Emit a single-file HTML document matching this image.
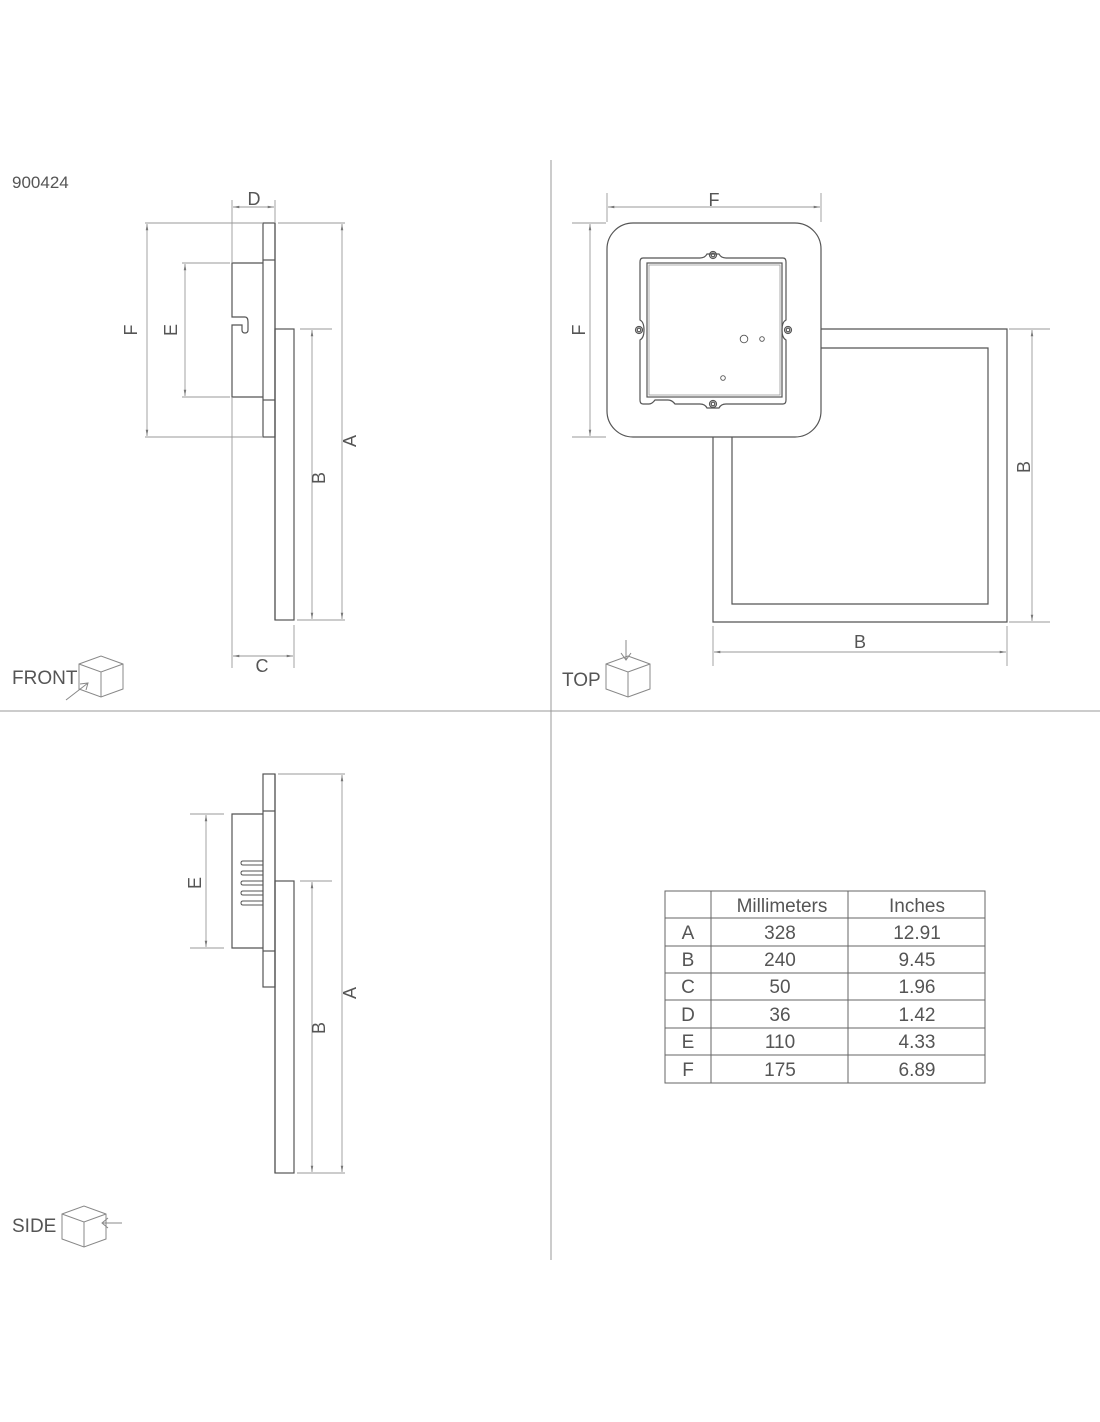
<!DOCTYPE html>
<html><head><meta charset="utf-8"><style>
html,body{margin:0;padding:0;background:#fff}
svg{display:block}
text{font-family:"Liberation Sans",sans-serif;fill:#555}
</style></head><body>
<svg width="1100" height="1422" viewBox="0 0 1100 1422" xmlns="http://www.w3.org/2000/svg">
<defs>
<marker id="ar" viewBox="0 0 10 10" refX="10" refY="5" markerWidth="7" markerHeight="7" orient="auto-start-reverse"><path d="M0,3 L10,5 L0,7 z" fill="#777"/></marker>
</defs>
<!-- dividers -->
<g stroke="#999" stroke-width="1">
<line x1="0" y1="711" x2="1100" y2="711"/>
<line x1="551" y1="160" x2="551" y2="1260"/>
</g>
<text x="12" y="188" font-size="17" fill="#666">900424</text>

<!-- FRONT VIEW -->
<g fill="none" stroke="#555" stroke-width="1.2">
<rect x="263" y="223" width="12" height="214"/>
<line x1="263" y1="260" x2="275" y2="260"/>
<line x1="263" y1="400" x2="275" y2="400"/>
<path d="M263,263 H232 V317 H245 Q248,317 248,322 V330 Q248,333 245,333 Q242,333 242,330 V325 H232 V397 H263"/>
<rect x="275" y="329" width="19" height="291"/>
<line x1="275" y1="223" x2="275" y2="620"/>
</g>
<g stroke="#999" stroke-width="0.9" fill="none">
<line x1="232" y1="200" x2="232" y2="262"/><line x1="232" y1="398" x2="232" y2="668"/>
<line x1="275" y1="200" x2="275" y2="222"/>
<line x1="233" y1="207" x2="274" y2="207" marker-start="url(#ar)" marker-end="url(#ar)"/>
<line x1="145" y1="223" x2="262" y2="223"/><line x1="145" y1="437" x2="262" y2="437"/>
<line x1="147" y1="224" x2="147" y2="436" marker-start="url(#ar)" marker-end="url(#ar)"/>
<line x1="182" y1="263" x2="230" y2="263"/><line x1="182" y1="397" x2="230" y2="397"/>
<line x1="185" y1="264" x2="185" y2="396" marker-start="url(#ar)" marker-end="url(#ar)"/>
<line x1="278" y1="223" x2="345" y2="223"/><line x1="297" y1="620" x2="345" y2="620"/>
<line x1="342" y1="224" x2="342" y2="619" marker-start="url(#ar)" marker-end="url(#ar)"/>
<line x1="300" y1="329" x2="332" y2="329"/>
<line x1="312" y1="330" x2="312" y2="619" marker-start="url(#ar)" marker-end="url(#ar)"/>
<line x1="294" y1="625" x2="294" y2="668"/>
<line x1="233" y1="656" x2="293" y2="656" marker-start="url(#ar)" marker-end="url(#ar)"/>
</g>
<g font-size="18">
<text x="254" y="205" text-anchor="middle">D</text>
<text x="262" y="672" text-anchor="middle">C</text>
<text transform="translate(137,330) rotate(-90)" text-anchor="middle">F</text>
<text transform="translate(177,330) rotate(-90)" text-anchor="middle">E</text>
<text transform="translate(356,441) rotate(-90)" text-anchor="middle">A</text>
<text transform="translate(325,478) rotate(-90)" text-anchor="middle">B</text>
</g>
<text x="12" y="684" font-size="19">FRONT</text>
<g fill="none" stroke="#888" stroke-width="1">
<path d="M79,664 L101,656 L123,664 L123,689 L101,697 L79,689 Z M79,664 L101,672 L123,664 M101,672 L101,697"/>
<path d="M66,700 L88,683 M80,684 L88,683 L86,690"/>
</g>

<!-- TOP VIEW -->
<g fill="none" stroke="#555" stroke-width="1.2">
<path d="M821,329 H1007 V622 H713 V437"/>
<path d="M821,348 H988 V604 H732 V437"/>
<rect x="607" y="223" width="214" height="214" rx="26" fill="#fff"/>
<path d="M643,258 H700 Q705,258 707,254 H719 Q721,258 726,258 H783 Q786,258 786,262 V320 Q782,322 782,330 Q782,338 786,340 V400 Q786,404 783,404 H726 Q721,404 719,408 H707 Q705,404 700,404 H675 Q672,400 668,400 H655 Q652,404 649,404 H643 Q640,404 640,400 V340 Q644,338 644,330 Q644,322 640,320 V262 Q640,258 643,258 Z"/>
<rect x="647" y="263" width="135" height="134"/>
<rect x="649" y="265" width="131" height="130" stroke="#999" stroke-width="0.8"/>
<circle cx="713" cy="255" r="3.5"/><circle cx="713" cy="255" r="1.8"/>
<circle cx="713" cy="404" r="3.5"/><circle cx="713" cy="404" r="1.8"/>
<circle cx="639" cy="330" r="3.5"/><circle cx="639" cy="330" r="1.8"/>
<circle cx="788" cy="330" r="3.5"/><circle cx="788" cy="330" r="1.8"/>
<circle cx="744" cy="339" r="3.8" stroke-width="0.9"/>
<circle cx="762" cy="339" r="2.3" stroke-width="0.9"/>
<circle cx="723" cy="378" r="2.3" stroke-width="0.9"/>
</g>
<g stroke="#999" stroke-width="0.9" fill="none">
<line x1="607" y1="193" x2="607" y2="222"/><line x1="821" y1="193" x2="821" y2="222"/>
<line x1="608" y1="207" x2="820" y2="207" marker-start="url(#ar)" marker-end="url(#ar)"/>
<line x1="572" y1="223" x2="606" y2="223"/><line x1="572" y1="437" x2="606" y2="437"/>
<line x1="590" y1="224" x2="590" y2="436" marker-start="url(#ar)" marker-end="url(#ar)"/>
<line x1="1009" y1="329" x2="1050" y2="329"/><line x1="1009" y1="622" x2="1050" y2="622"/>
<line x1="1032" y1="330" x2="1032" y2="621" marker-start="url(#ar)" marker-end="url(#ar)"/>
<line x1="713" y1="626" x2="713" y2="666"/><line x1="1007" y1="626" x2="1007" y2="666"/>
<line x1="714" y1="652" x2="1006" y2="652" marker-start="url(#ar)" marker-end="url(#ar)"/>
</g>
<g font-size="18">
<text x="714" y="206" text-anchor="middle">F</text>
<text x="860" y="648" text-anchor="middle">B</text>
<text transform="translate(585,330) rotate(-90)" text-anchor="middle">F</text>
<text transform="translate(1030,467) rotate(-90)" text-anchor="middle">B</text>
</g>
<text x="562" y="686" font-size="19">TOP</text>
<g fill="none" stroke="#888" stroke-width="1">
<path d="M606,664 L628,656 L650,664 L650,689 L628,697 L606,689 Z M606,664 L628,672 L650,664 M628,672 L628,697"/>
<path d="M626,640 L626,660 M621,653 L626,660 L631,653"/>
</g>

<!-- SIDE VIEW -->
<g fill="none" stroke="#555" stroke-width="1.2">
<rect x="263" y="774" width="12" height="213"/>
<line x1="263" y1="811" x2="275" y2="811"/>
<line x1="263" y1="951" x2="275" y2="951"/>
<path d="M263,814 H232 V948 H263"/>
<path d="M263,861 H243 Q241,861 241,863 Q241,865 243,865 H263 M263,871 H243 Q241,871 241,873 Q241,875 243,875 H263 M263,881 H243 Q241,881 241,883 Q241,885 243,885 H263 M263,891 H243 Q241,891 241,893 Q241,895 243,895 H263 M263,901 H243 Q241,901 241,903 Q241,905 243,905 H263" stroke-width="1"/>
<rect x="275" y="881" width="19" height="292"/>
<line x1="275" y1="774" x2="275" y2="1173"/>
</g>
<g stroke="#999" stroke-width="0.9" fill="none">
<line x1="278" y1="774" x2="345" y2="774"/><line x1="297" y1="1173" x2="345" y2="1173"/>
<line x1="342" y1="775" x2="342" y2="1172" marker-start="url(#ar)" marker-end="url(#ar)"/>
<line x1="300" y1="881" x2="332" y2="881"/>
<line x1="312" y1="882" x2="312" y2="1172" marker-start="url(#ar)" marker-end="url(#ar)"/>
<line x1="190" y1="814" x2="224" y2="814"/><line x1="190" y1="948" x2="224" y2="948"/>
<line x1="206" y1="815" x2="206" y2="947" marker-start="url(#ar)" marker-end="url(#ar)"/>
</g>
<g font-size="18">
<text transform="translate(201,883) rotate(-90)" text-anchor="middle">E</text>
<text transform="translate(356,993) rotate(-90)" text-anchor="middle">A</text>
<text transform="translate(325,1028) rotate(-90)" text-anchor="middle">B</text>
</g>
<text x="12" y="1232" font-size="19">SIDE</text>
<g fill="none" stroke="#888" stroke-width="1">
<path d="M62,1214 L84,1206 L106,1214 L106,1239 L84,1247 L62,1239 Z M62,1214 L84,1222 L106,1214 M84,1222 L84,1247"/>
<path d="M122,1223 L102,1223 M108,1218 L102,1223 L108,1228"/>
</g>

<!-- TABLE -->
<g stroke="#666" stroke-width="1" fill="none">
<rect x="665" y="891" width="320" height="192"/>
<line x1="711" y1="891" x2="711" y2="1083"/>
<line x1="848" y1="891" x2="848" y2="1083"/>
<line x1="665" y1="918" x2="985" y2="918"/>
<line x1="665" y1="946" x2="985" y2="946"/>
<line x1="665" y1="973" x2="985" y2="973"/>
<line x1="665" y1="1000" x2="985" y2="1000"/>
<line x1="665" y1="1028" x2="985" y2="1028"/>
<line x1="665" y1="1055" x2="985" y2="1055"/>
</g>
<g font-size="19" fill="#333" text-anchor="middle">
<text x="782" y="912" fill="#333">Millimeters</text><text x="917" y="912" fill="#333">Inches</text>
<text x="688" y="939" fill="#333">A</text><text x="780" y="939" fill="#333">328</text><text x="917" y="939" fill="#333">12.91</text>
<text x="688" y="966" fill="#333">B</text><text x="780" y="966" fill="#333">240</text><text x="917" y="966" fill="#333">9.45</text>
<text x="688" y="993" fill="#333">C</text><text x="780" y="993" fill="#333">50</text><text x="917" y="993" fill="#333">1.96</text>
<text x="688" y="1021" fill="#333">D</text><text x="780" y="1021" fill="#333">36</text><text x="917" y="1021" fill="#333">1.42</text>
<text x="688" y="1048" fill="#333">E</text><text x="780" y="1048" fill="#333">110</text><text x="917" y="1048" fill="#333">4.33</text>
<text x="688" y="1076" fill="#333">F</text><text x="780" y="1076" fill="#333">175</text><text x="917" y="1076" fill="#333">6.89</text>
</g>
</svg>
</body></html>
